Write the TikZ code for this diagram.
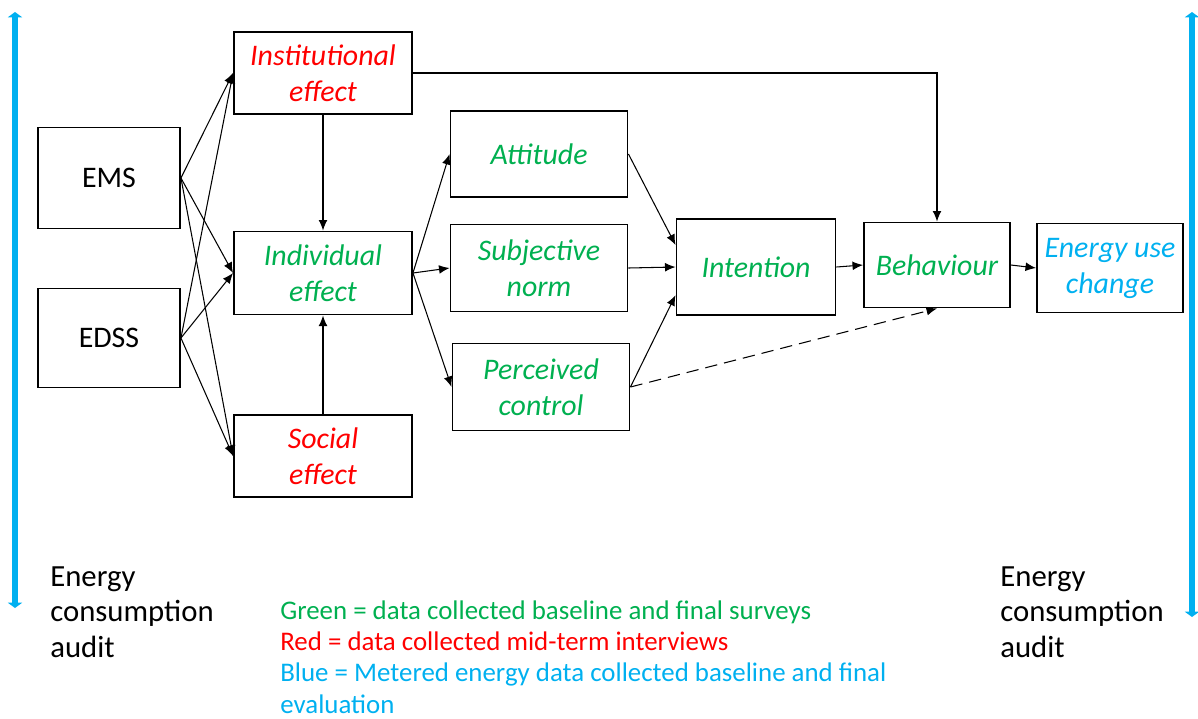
\documentclass[tikz,border=0pt]{standalone}
\usepackage{fontspec}
\setmainfont{Carlito}
\usetikzlibrary{arrows.meta}

\definecolor{effred}{HTML}{FF0000}
\definecolor{effgreen}{HTML}{00B050}
\definecolor{effblue}{HTML}{00B0F0}

\tikzset{
    box/.style={draw, line width=1.1pt, inner sep=0pt, align=center,
        font=\fontsize{17}{20.5}\selectfont},
    redbox/.style={box, text=effred, font=\fontsize{17}{20.5}\selectfont\itshape},
    greenbox/.style={box, text=effgreen, font=\fontsize{17}{20.5}\selectfont\itshape},
    bluebox/.style={box, text=effblue, font=\fontsize{17}{20.5}\selectfont\itshape},
    arr/.style={-{Latex[length=6pt,width=5pt]}, line width=0.6pt},
    audit/.style={arrows={Triangle[length=3pt,width=8pt]-Triangle[length=3pt,width=8pt]},
        line width=3.6pt, effblue},
    note/.style={anchor=west, inner sep=0pt, align=left,
        font=\fontsize{17.5}{20.3}\selectfont}
}

\begin{document}
\begin{tikzpicture}[x=0.02cm, y=-0.02cm]
    \useasboundingbox (0,0) rectangle (1198,718);

    % Define the boxes
    \node[box, minimum width=2.84cm, minimum height=2.02cm] (ems) at (109,178) {EMS};
    \node[box, minimum width=2.84cm, minimum height=1.98cm] (edss) at (109,338) {EDSS};
    \node[redbox, minimum width=3.56cm, minimum height=1.64cm] (inst) at (323,73) {Institutional\\effect};
    \node[greenbox, minimum width=3.56cm, minimum height=1.66cm] (indiv) at (323,273) {Individual\\effect};
    \node[redbox, minimum width=3.56cm, minimum height=1.64cm] (social) at (323,456) {Social\\effect};
    \node[greenbox, minimum width=3.54cm, minimum height=1.72cm] (att) at (539,154) {Attitude};
    \node[greenbox, minimum width=3.54cm, minimum height=1.74cm] (subj) at (539,268) {Subjective\\norm};
    \node[greenbox, minimum width=3.54cm, minimum height=1.74cm] (perc) at (541,387) {Perceived\\control};
    \node[greenbox, minimum width=3.18cm, minimum height=1.92cm] (intent) at (756,267) {Intention};
    \node[greenbox, minimum width=2.92cm, minimum height=1.70cm] (behav) at (937,265) {Behaviour};
    \node[bluebox, minimum width=2.92cm, minimum height=1.78cm] (euc) at (1110,268) {Energy use\\change};

    % Draw the systems to every effect
    \foreach \s in {ems,edss} {
        \foreach \t in {inst,indiv,social} {
            \draw[arr] (\s.east) -- (\t.west);
        }
    }

    \draw[arr] (inst.south) -- (indiv.north);
    \draw[arr] (social.north) -- (indiv.south);
    \draw[arr] (inst.east) -| (behav.north);

    % Individual effect to the three beliefs
    \foreach \t in {att,subj,perc} {
        \draw[arr] (indiv.east) -- (\t.west);
    }

    \draw[arr] (att.east) -- ([yshift=12.5pt]intent.west);
    \draw[arr] (subj.east) -- (intent.west);
    \draw[arr] (perc.east) -- ([yshift=-16pt]intent.west);
    \draw[arr, dashed, dash pattern=on 7pt off 4pt] (perc.east) -- (behav.south);
    \draw[arr] (intent.east) -- (behav.west);
    \draw[arr] (behav.east) -- (euc.west);

    % Audit arrows on both sides
    \coordinate (ltop) at (15,12);
    \coordinate (lbot) at (15,608);
    \coordinate (rtop) at (1192,12);
    \coordinate (rbot) at (1192,617);
    \draw[audit] (ltop) -- (lbot);
    \draw[audit] (rtop) -- (rbot);

    \node[note] (laudit) at (50,612) {Energy\\consumption\\audit};
    \node[note] (raudit) at (1000,612) {Energy\\consumption\\audit};

    % Colour legend
    \node[note, font=\fontsize{15.3}{17.9}\selectfont] (legend) at (280,657) {%
        {\color{effgreen}Green = data collected baseline and final surveys}\\
        {\color{effred}Red = data collected mid-term interviews}\\
        {\color{effblue}Blue = Metered energy data collected baseline and final}\\
        {\color{effblue}evaluation}};

\end{tikzpicture}
\end{document}
